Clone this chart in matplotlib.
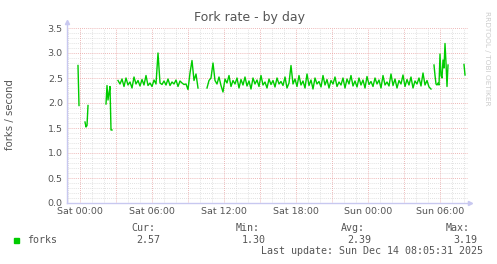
import numpy as np
import matplotlib
matplotlib.use('Agg')
import matplotlib.pyplot as plt
from matplotlib.patches import Rectangle

# hours relative to Sat 00:00
seg_starts = [-0.167, 0.417, 2.167, 3.167, 10.583, 29.5, 32.0]
seg_steps = [1 / 12, 1 / 12, 1 / 12, 1 / 6, 1 / 6, 1 / 12, 1 / 12]

seg_0 = [2.75, 1.95]
seg_1 = [1.62, 1.52, 1.55, 1.95]
seg_2 = [1.98, 2.35, 2.06, 2.20, 2.33, 1.46, 1.46]
seg_3 = [2.45, 2.38, 2.48, 2.33, 2.50, 2.36, 2.42, 2.30, 2.52, 2.38,
         2.45, 2.34, 2.47, 2.36, 2.55, 2.35, 2.40, 2.33, 2.46, 2.38,
         3.00, 2.40, 2.37, 2.44, 2.36, 2.48, 2.35, 2.42, 2.38, 2.46,
         2.33, 2.44, 2.40, 2.37, 2.38, 2.27, 2.60, 2.85, 2.45, 2.58, 2.30]
seg_4 = [2.30, 2.45, 2.50, 2.80, 2.45, 2.38, 2.52, 2.35, 2.22, 2.48,
         2.40, 2.55, 2.33, 2.45, 2.38, 2.50, 2.30, 2.47, 2.36, 2.52,
         2.34, 2.44, 2.28, 2.50, 2.38, 2.46, 2.33, 2.55, 2.36, 2.42,
         2.30, 2.48, 2.37, 2.45, 2.32, 2.50, 2.38, 2.43, 2.35, 2.52,
         2.30, 2.40, 2.75, 2.38, 2.48, 2.33, 2.55, 2.36, 2.44, 2.30,
         2.58, 2.35, 2.46, 2.28, 2.50, 2.38, 2.43, 2.32, 2.55, 2.36,
         2.47, 2.30, 2.45, 2.38, 2.52, 2.33, 2.42, 2.36, 2.50, 2.30,
         2.48, 2.38, 2.55, 2.34, 2.44, 2.32, 2.50, 2.36, 2.46, 2.30,
         2.53, 2.37, 2.43, 2.33, 2.50, 2.38, 2.46, 2.30, 2.55, 2.36,
         2.42, 2.34, 2.58, 2.35, 2.48, 2.30, 2.45, 2.38, 2.56, 2.33,
         2.47, 2.36, 2.52, 2.30, 2.44, 2.38, 2.50, 2.34, 2.60, 2.36,
         2.45, 2.32, 2.28]
seg_5 = [2.76, 2.55, 2.38, 2.36, 2.40, 2.36, 2.98, 2.55, 2.50, 2.86,
         2.70, 3.19, 2.80, 2.33, 2.76]
seg_6 = [2.77, 2.56]
segments = [seg_0, seg_1, seg_2, seg_3, seg_4, seg_5, seg_6]

tick_hours = [0, 6, 12, 18, 24, 30]
tick_labels = ['Sat 00:00', 'Sat 06:00', 'Sat 12:00', 'Sat 18:00', 'Sun 00:00', 'Sun 06:00']

W, H = 497, 264
fig = plt.figure(figsize=(W / 100, H / 100), dpi=100)
fig.patch.set_facecolor('white')
ax = fig.add_axes([67 / W, 1 - 203 / H, 401 / W, 175 / H])
ax.set_facecolor('white')

x_min, x_max = -1.0833, 32.333
ax.set_xlim(x_min, x_max)
ax.set_ylim(0, 3.5)

# grid: minor gray, major red
for h in np.arange(-1, 33, 1):
    if h % 3 == 0:
        continue
    ax.axvline(h, color='#d8d8d8', lw=0.6, ls=(0, (1, 1.5)), zorder=1)
for v in np.arange(0.1, 3.51, 0.1):
    if abs(v * 2 - round(v * 2)) < 1e-6:
        continue
    ax.axhline(v, color='#d8d8d8', lw=0.6, ls=(0, (1, 1.5)), zorder=1)
for h in np.arange(0, 33, 3):
    ax.axvline(h, color='#e8a0a0', lw=0.6, ls=(0, (1, 1.5)), zorder=2)
for v in np.arange(0.5, 3.51, 0.5):
    ax.axhline(v, color='#e8a0a0', lw=0.6, ls=(0, (1, 1.5)), zorder=2)

for start, step, vals in zip(seg_starts, seg_steps, segments):
    t = start + np.arange(len(vals)) * step
    ax.plot(t, vals, color='#00cc00', lw=1.0, zorder=3)

for s in ax.spines.values():
    s.set_visible(False)
axis_col = '#c8c8f0'
ax.plot([x_min, x_max + 0.15], [0, 0], color=axis_col, lw=1.0, clip_on=False, zorder=4)
ax.plot([x_min, x_min], [0, 3.58], color=axis_col, lw=1.0, clip_on=False, zorder=4)
ax.plot([x_max + 0.2], [0], marker='>', ms=3, color=axis_col, clip_on=False, zorder=4)
ax.plot([x_min], [3.62], marker='^', ms=3, color=axis_col, clip_on=False, zorder=4)

ax.set_xticks(tick_hours)
ax.set_xticklabels(tick_labels)
ax.set_yticks(np.arange(0, 3.51, 0.5))
ax.set_yticklabels(['%.1f' % v for v in np.arange(0, 3.51, 0.5)])
ax.tick_params(length=0, labelsize=6.8, labelcolor='#555555', pad=3)

fig.text(250 / W, 1 - 18 / H, 'Fork rate - by day', ha='center', va='center',
         fontsize=9, color='#555555')
fig.text(10 / W, 1 - 115 / H, 'forks / second', rotation=90, ha='center', va='center',
         fontsize=7.3, color='#555555')
fig.text(487 / W, 1 - 58 / H, 'RRDTOOL / TOBI OETIKER', rotation=270, ha='center',
         va='center', fontsize=5.3, color='#cccccc')

mono = 'DejaVu Sans Mono'
txt = '#555555'
fig.patches.append(Rectangle((13.7 / W, 1 - 242.7 / H), 5 / W, 5 / H,
                             transform=fig.transFigure, color='#00cc00'))
fig.text(27 / W, 1 - 240 / H, 'forks', family=mono, fontsize=7.2, color=txt, va='center')
for xr, head in zip([155, 260, 365, 470], ['Cur:', 'Min:', 'Avg:', 'Max:']):
    fig.text(xr / W, 1 - 228 / H, head, family=mono, fontsize=7.2, color=txt,
             ha='right', va='center')
for xr, val in zip([160, 266, 371, 477], ['2.57', '1.30', '2.39', '3.19']):
    fig.text(xr / W, 1 - 240 / H, val, family=mono, fontsize=7.2, color=txt,
             ha='right', va='center')
fig.text(483 / W, 1 - 251.5 / H, 'Last update: Sun Dec 14 08:05:31 2025', family=mono,
         fontsize=7.2, color=txt, ha='right', va='center')

fig.savefig('out.png', dpi=100, facecolor='white')
